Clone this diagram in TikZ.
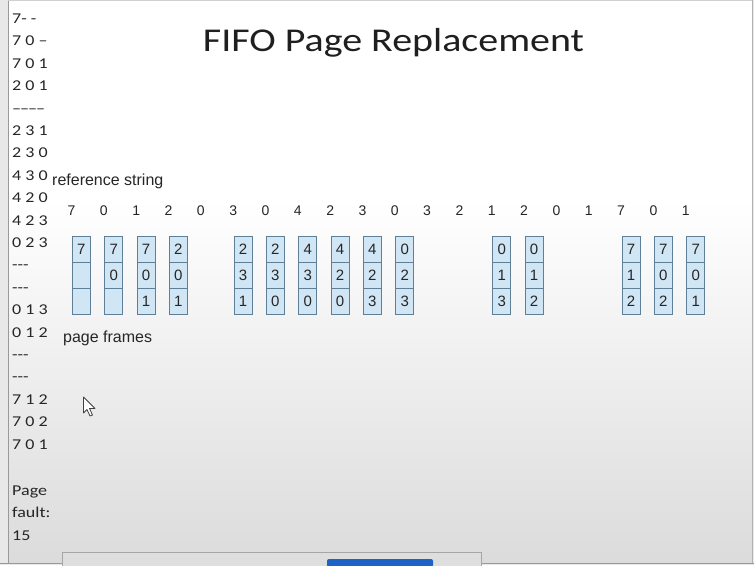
\documentclass[tikz,border=0pt]{standalone}
\usepackage{fontspec}
\setmainfont{Liberation Sans}
\newfontfamily\slidefont{Carlito}[FakeStretch=1.2]
\newfontfamily\figfont{Liberation Sans}
\definecolor{cellfill}{HTML}{D0E6F5}
\definecolor{celledge}{HTML}{5F7F96}
\definecolor{inktext}{HTML}{262626}
\definecolor{barblue}{HTML}{1D62C5}
\begin{document}
\begin{tikzpicture}[x=1pt,y=-1pt,
  notes/.style={anchor=base west,inner sep=0pt,text=inktext,font=\slidefont\fontsize{15}{18}\selectfont},
  figlabel/.style={anchor=base west,inner sep=0pt,text=inktext,font=\figfont\fontsize{16}{19}\selectfont},
  refnum/.style={anchor=base,inner sep=0pt,text=inktext,font=\figfont\fontsize{14}{17}\selectfont},
  cell/.style={anchor=north west,draw=celledge,fill=cellfill,line width=0.8pt,
    minimum width=18pt,minimum height=26pt,inner sep=0pt,text=inktext,
    font=\figfont\fontsize{15}{18}\selectfont}]
\useasboundingbox (0,0) rectangle (754,565);

% slide backdrop
\fill[black!9] (0,0) rectangle (754,565);
\fill[white] (8,1) rectangle (752,200);
\shade[top color=white,bottom color=black!14] (8,200) rectangle (752,563);
\draw[black!40,line width=1pt] (8,0) -- (8,563);
\draw[black!30,line width=1pt] (752.5,0) -- (752.5,563);
\draw[black!18] (8,0.5) -- (752,0.5);
\draw[black!40,line width=1pt] (0,563) -- (754,563);

% title
\node[anchor=base,inner sep=0pt,text=black!88,font=\slidefont\fontsize{33.3}{40}\selectfont]
  (title) at (393.5,51) {FIFO Page Replacement};

% running notes on the left
\foreach \t [count=\k from 0] in {7- -,7 0 –,7 0 1,2 0 1,–\kern-1pt–\kern-1pt–\kern-1pt–,2 3 1,2 3 0,4 3 0,4 2 0,4 2 3,0 2 3,---,---,0 1 3,0 1 2,---,---,7 1 2,7 0 2,7 0 1}
  \node[notes] (note\k) at (12,{23.5+22.4*\k}) {\t};
\node[notes] (pf1) at (12,495) {Page};
\node[notes] (pf2) at (12,517) {fault:};
\node[notes] (pf3) at (12,540) {15};

% reference string
\node[figlabel] (reflabel) at (52,185.5) {reference string};
\foreach \v [count=\k from 0] in {7,0,1,2,0,3,0,4,2,3,0,3,2,1,2,0,1,7,0,1}
  \node[refnum] (r\k) at ({71.5+32.33*\k},215) {\v};

% page frames after each fault
\foreach \i/\a/\b/\c in {0/7//,1/7/0/,2/7/0/1,3/2/0/1,5/2/3/1,6/2/3/0,7/4/3/0,8/4/2/0,
    9/4/2/3,10/0/2/3,13/0/1/3,14/0/1/2,17/7/1/2,18/7/0/2,19/7/0/1} {
  \node[cell] (f\i a) at ({72+32.33*\i},236) {\a};
  \node[cell] (f\i b) at ({72+32.33*\i},262) {\b};
  \node[cell] (f\i c) at ({72+32.33*\i},288) {\c};
}
\node[figlabel] (framelabel) at (63,342) {page frames};

% mouse pointer
\filldraw[fill=white,draw=black!75,line width=0.8pt,line join=round]
  (83.5,397) -- (83.5,413) -- (87,409.5) -- (90,416) -- (92.5,415) -- (89.5,408.5) -- (95,408.5) -- cycle;

% task bar pieces along the bottom
\filldraw[fill=black!13,draw=black!35] (62,552.5) rectangle (481,566);
\fill[barblue,rounded corners=2pt] (327,567) -- (327,559) -- (433,559) -- (433,567) -- cycle;
\end{tikzpicture}
\end{document}
